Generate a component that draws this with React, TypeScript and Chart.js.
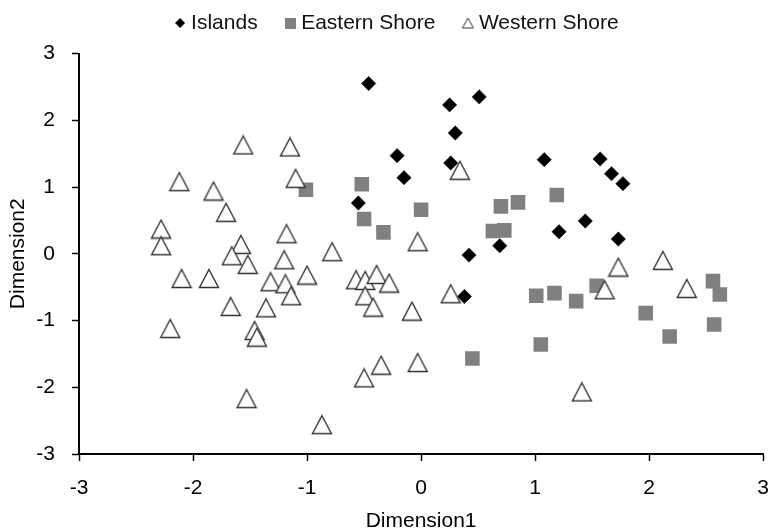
import { useEffect, useRef } from 'react';
import { Chart, registerables } from 'chart.js';

Chart.register(...registerables);

const seriesNames = ['Islands', 'Eastern Shore', 'Western Shore'];
const xTitle = 'Dimension1';
const yTitle = 'Dimension2';
const axisMin = -3;
const axisMax = 3;

const islandsX = [-0.46, 0.25, 0.51, 0.30, -0.21, -0.15, 0.26, -0.55, 1.08, 1.57, 1.67, 1.77, 1.44, 1.21, 1.73, 0.69, 0.42, 0.38];
const islandsY = [2.55, 2.23, 2.35, 1.81, 1.47, 1.14, 1.36, 0.76, 1.41, 1.42, 1.20, 1.05, 0.49, 0.33, 0.22, 0.12, -0.02, -0.64];

const easternX = [-1.01, -0.52, -0.50, -0.33, 0.00, 0.70, 0.85, 0.63, 0.73, 1.19, 1.01, 1.17, 1.36, 1.54, 1.97, 2.18, 2.56, 2.62, 2.57, 1.05, 0.45];
const easternY = [0.96, 1.04, 0.52, 0.32, 0.66, 0.71, 0.77, 0.34, 0.35, 0.88, -0.63, -0.59, -0.71, -0.48, -0.89, -1.24, -0.41, -0.61, -1.06, -1.36, -1.57];

const westernX = [-1.56, -1.15, -2.12, -1.82, -1.10, -1.71, -2.28, -1.18, -2.28, -1.58, -1.66, -1.52, -1.20, -1.00, -2.10, -1.86, -1.32, -1.19, -1.14, -1.67, -1.36, -2.20, -1.46, -1.44, -1.53, -0.87, -0.78, -0.03, -0.57, -0.49, -0.39, -0.28, -0.49, -0.42, -0.08, 0.26, -0.35, -0.03, -0.50, 0.34, 1.73, 2.12, 1.61, 2.33, 1.41];
const westernY = [1.63, 1.60, 1.08, 0.94, 1.13, 0.62, 0.37, 0.30, 0.12, 0.14, -0.03, -0.16, -0.09, -0.32, -0.37, -0.37, -0.42, -0.45, -0.63, -0.79, -0.81, -1.12, -1.15, -1.25, -2.17, -2.56, 0.03, 0.18, -0.39, -0.40, -0.31, -0.44, -0.63, -0.80, -0.86, -0.60, -1.67, -1.63, -1.86, 1.25, -0.20, -0.10, -0.54, -0.52, -2.07];

const toPoints = (xs: number[], ys: number[]) => xs.map((x, i) => ({ x, y: ys[i] }));

function makeTriangle(w: number, h: number, lw: number, stroke: string, fill: string) {
  const c = document.createElement('canvas');
  c.width = Math.ceil(w + lw * 2);
  c.height = Math.ceil(h + lw * 2);
  const ctx = c.getContext('2d')!;
  const ox = (c.width - w) / 2;
  const oy = (c.height - h) / 2;
  ctx.beginPath();
  ctx.moveTo(ox + w / 2, oy);
  ctx.lineTo(ox + w, oy + h);
  ctx.lineTo(ox, oy + h);
  ctx.closePath();
  ctx.fillStyle = fill;
  ctx.fill();
  ctx.lineWidth = lw;
  ctx.strokeStyle = stroke;
  ctx.stroke();
  return c;
}

function makeDiamond(s: number, color: string) {
  const c = document.createElement('canvas');
  c.width = s;
  c.height = s;
  const ctx = c.getContext('2d')!;
  ctx.beginPath();
  ctx.moveTo(s / 2, 0);
  ctx.lineTo(s, s / 2);
  ctx.lineTo(s / 2, s);
  ctx.lineTo(0, s / 2);
  ctx.closePath();
  ctx.fillStyle = color;
  ctx.fill();
  return c;
}

function makeSquare(s: number, color: string) {
  const c = document.createElement('canvas');
  c.width = s;
  c.height = s;
  const ctx = c.getContext('2d')!;
  ctx.fillStyle = color;
  ctx.fillRect(0, 0, s, s);
  return c;
}

// nudges the legend box after layout (position only)
const legendNudge = {
  id: 'legendNudge',
  afterLayout(chart: any) {
    const lg = chart.legend;
    if (!lg) return;
    lg.top -= 10;
    lg.bottom -= 10;
    lg.left += 14.6;
    lg.right += 14.6;
  },
};

export default function App() {
  const ref = useRef<HTMLCanvasElement | null>(null);

  useEffect(() => {
    document.body.style.margin = '0';
    const canvas = ref.current;
    if (!canvas) return;

    const tri = makeTriangle(19, 18, 1.4, '#333333', '#ffffff');
    const legendIcons = [makeDiamond(10, '#000000'), makeSquare(11, '#808080'), makeTriangle(11, 10, 1, '#333333', '#ffffff')];

    const font = { family: '"Liberation Sans", Arial, sans-serif', size: 21 };

    const chart = new Chart(canvas, {
      type: 'scatter',
      data: {
        datasets: [
          {
            label: seriesNames[0],
            data: toPoints(islandsX, islandsY),
            pointStyle: 'rectRot',
            pointRadius: 7.2,
            pointHoverRadius: 7.2,
            backgroundColor: '#000000',
            borderColor: '#111111',
            borderWidth: 0.5,
            order: 3,
          },
          {
            label: seriesNames[1],
            data: toPoints(easternX, easternY),
            pointStyle: 'rect',
            pointRadius: 10.3,
            pointHoverRadius: 10.3,
            backgroundColor: '#808080',
            borderColor: '#808080',
            borderWidth: 0,
            order: 2,
          },
          {
            label: seriesNames[2],
            data: toPoints(westernX, westernY),
            pointStyle: tri,
            pointRadius: 10,
            pointHoverRadius: 10,
            backgroundColor: '#ffffff',
            borderColor: '#333333',
            order: 1,
          },
        ],
      },
      options: {
        responsive: false,
        animation: false,
        events: [],
        layout: { padding: { left: 0, right: 15, top: -9.5, bottom: 0 } },
        plugins: {
          tooltip: { enabled: false },
          legend: {
            position: 'top',
            labels: {
              usePointStyle: true,
              boxWidth: 1,
              padding: 32,
              color: '#111111',
              font,
              sort: (a: any, b: any) => a.datasetIndex - b.datasetIndex,
              generateLabels: (ch: any) => {
                const items = Chart.defaults.plugins.legend.labels.generateLabels(ch);
                return items.map((it: any) => ({ ...it, pointStyle: legendIcons[it.datasetIndex] }));
              },
            },
          },
        },
        scales: {
          x: {
            type: 'linear',
            min: axisMin,
            max: axisMax,
            afterFit: (s: any) => { s.height = 77; },
            ticks: { stepSize: 1, color: '#000000', font, padding: 15, maxRotation: 0 },
            grid: { drawOnChartArea: false, drawTicks: true, tickLength: 7, tickColor: '#000000', tickWidth: 1.5 },
            border: { display: true, color: '#000000', width: 2 },
            title: { display: true, text: xTitle, color: '#000000', font: { ...font, lineHeight: 1 }, padding: { top: 0, bottom: -1 } },
          },
          y: {
            type: 'linear',
            min: axisMin,
            max: axisMax,
            afterFit: (s: any) => { s.width = 79; },
            ticks: { stepSize: 1, color: '#000000', font, padding: 17 },
            grid: { drawOnChartArea: false, drawTicks: true, tickLength: 7, tickColor: '#000000', tickWidth: 1.5 },
            border: { display: true, color: '#000000', width: 2 },
            title: { display: true, text: yTitle, color: '#000000', font: { ...font, lineHeight: 1 }, padding: { top: 8, bottom: 0 } },
          },
        },
      },
      plugins: [legendNudge],
    });

    return () => chart.destroy();
  }, []);

  return <canvas ref={ref} width={784} height={531} style={{ display: 'block' }} />;
}
